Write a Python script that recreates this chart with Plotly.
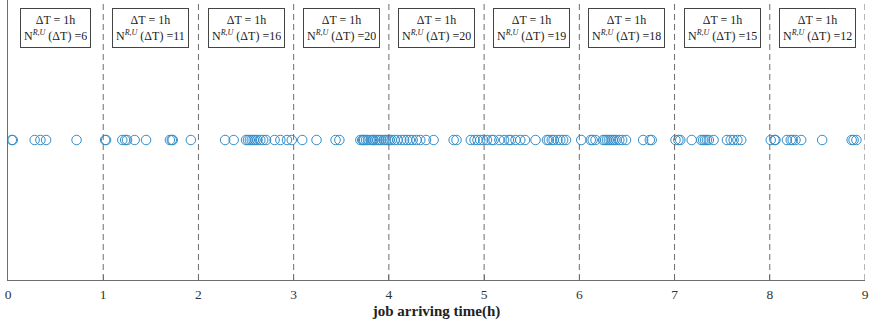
import plotly.graph_objects as go

# ---- data ----
arrivals_h0 = [0.04, 0.05, 0.28, 0.34, 0.40, 0.72]
arrivals_h1 = [1.02, 1.03, 1.20, 1.23, 1.25, 1.33, 1.45, 1.70, 1.72, 1.73, 1.92]
arrivals_h2 = [2.28, 2.37, 2.50, 2.52, 2.54, 2.56, 2.58, 2.60, 2.62, 2.65, 2.68, 2.71,
               2.80, 2.86, 2.93, 2.98]
arrivals_h3 = [3.09, 3.24, 3.44, 3.48, 3.70, 3.72, 3.73, 3.74, 3.76, 3.78, 3.81, 3.83,
               3.84, 3.86, 3.88, 3.90, 3.92, 3.95, 3.97, 3.99]
arrivals_h4 = [4.01, 4.03, 4.06, 4.09, 4.13, 4.16, 4.19, 4.22, 4.25, 4.29, 4.33, 4.39,
               4.47, 4.68, 4.71, 4.86, 4.90, 4.93, 4.96, 4.99]
arrivals_h5 = [5.03, 5.08, 5.10, 5.16, 5.21, 5.26, 5.28, 5.33, 5.38, 5.43, 5.54, 5.66,
               5.68, 5.71, 5.73, 5.77, 5.80, 5.83, 5.86]
arrivals_h6 = [6.02, 6.12, 6.14, 6.17, 6.25, 6.27, 6.29, 6.31, 6.33, 6.35, 6.37, 6.39,
               6.42, 6.45, 6.49, 6.67, 6.74, 6.76]
arrivals_h7 = [7.01, 7.04, 7.06, 7.18, 7.28, 7.30, 7.32, 7.34, 7.36, 7.41, 7.55, 7.59,
               7.62, 7.66, 7.70]
arrivals_h8 = [8.01, 8.05, 8.06, 8.18, 8.22, 8.24, 8.27, 8.33, 8.55, 8.86, 8.88, 8.91]

window_starts = [0, 1, 2, 3, 4, 5, 6, 7, 8]
window_counts = [6, 11, 16, 20, 20, 19, 18, 15, 12]
hour_bounds = [1, 2, 3, 4, 5, 6, 7, 8, 9]
tick_values = [0, 1, 2, 3, 4, 5, 6, 7, 8, 9]
tick_labels = ["0", "1", "2", "3", "4", "5", "6", "7", "8", "9"]
x_title = "job arriving time(h)"

arrivals = (arrivals_h0 + arrivals_h1 + arrivals_h2 + arrivals_h3 + arrivals_h4
            + arrivals_h5 + arrivals_h6 + arrivals_h7 + arrivals_h8)

SERIF = "Liberation Serif, DejaVu Serif, serif"
BLUE = "rgb(0,114,189)"
GRAY = "#6e6e6e"

fig = go.Figure()
fig.add_trace(go.Scatter(
    x=arrivals, y=[1] * len(arrivals), mode="markers",
    marker=dict(symbol="circle-open", size=9.5, color=BLUE, line=dict(width=1, color=BLUE)),
    opacity=0.8, showlegend=False, hoverinfo="x",
))

for b in hour_bounds:
    fig.add_shape(type="line", xref="x", yref="paper", x0=b, x1=b, y0=0, y1=1,
                  line=dict(color=GRAY, width=1, dash="6px,4px"))

for s, n in zip(window_starts, window_counts):
    fig.add_annotation(
        x=s + 0.5, xref="x", y=0.9, yref="paper", yanchor="middle", xanchor="center",
        text=(f"ΔT = 1h<br>N<sup><span style='font-size:8px'><i>R,U</i></span></sup>"
              f" (ΔT) ={n}"),
        showarrow=False, align="center", valign="middle", height=32,
        font=dict(family=SERIF, size=12, color="#222"),
        bordercolor="#444", borderwidth=1, borderpad=3, bgcolor="white",
    )

fig.update_layout(
    width=870, height=320,
    margin=dict(l=8, r=5, t=0, b=40),
    plot_bgcolor="white", paper_bgcolor="white",
    xaxis=dict(range=[0, 9], tickvals=tick_values, ticktext=tick_labels,
               showline=True, linecolor=GRAY, linewidth=1, ticks="inside", ticklen=5,
               tickcolor=GRAY, showgrid=False, zeroline=False, ticklabelstandoff=2,
               tickfont=dict(family=SERIF, size=13.5, color="#333"),
               title=dict(text=f"<b>{x_title}</b>", standoff=5,
                          font=dict(family=SERIF, size=15, color="#222")),
               automargin=False),
    yaxis=dict(range=[0, 2], showline=True, linecolor=GRAY, linewidth=1,
               showticklabels=False, ticks="", showgrid=False, zeroline=False),
)

fig.write_html("out.html", config={"displayModeBar": False},
               post_script="document.body.style.margin='0';")
